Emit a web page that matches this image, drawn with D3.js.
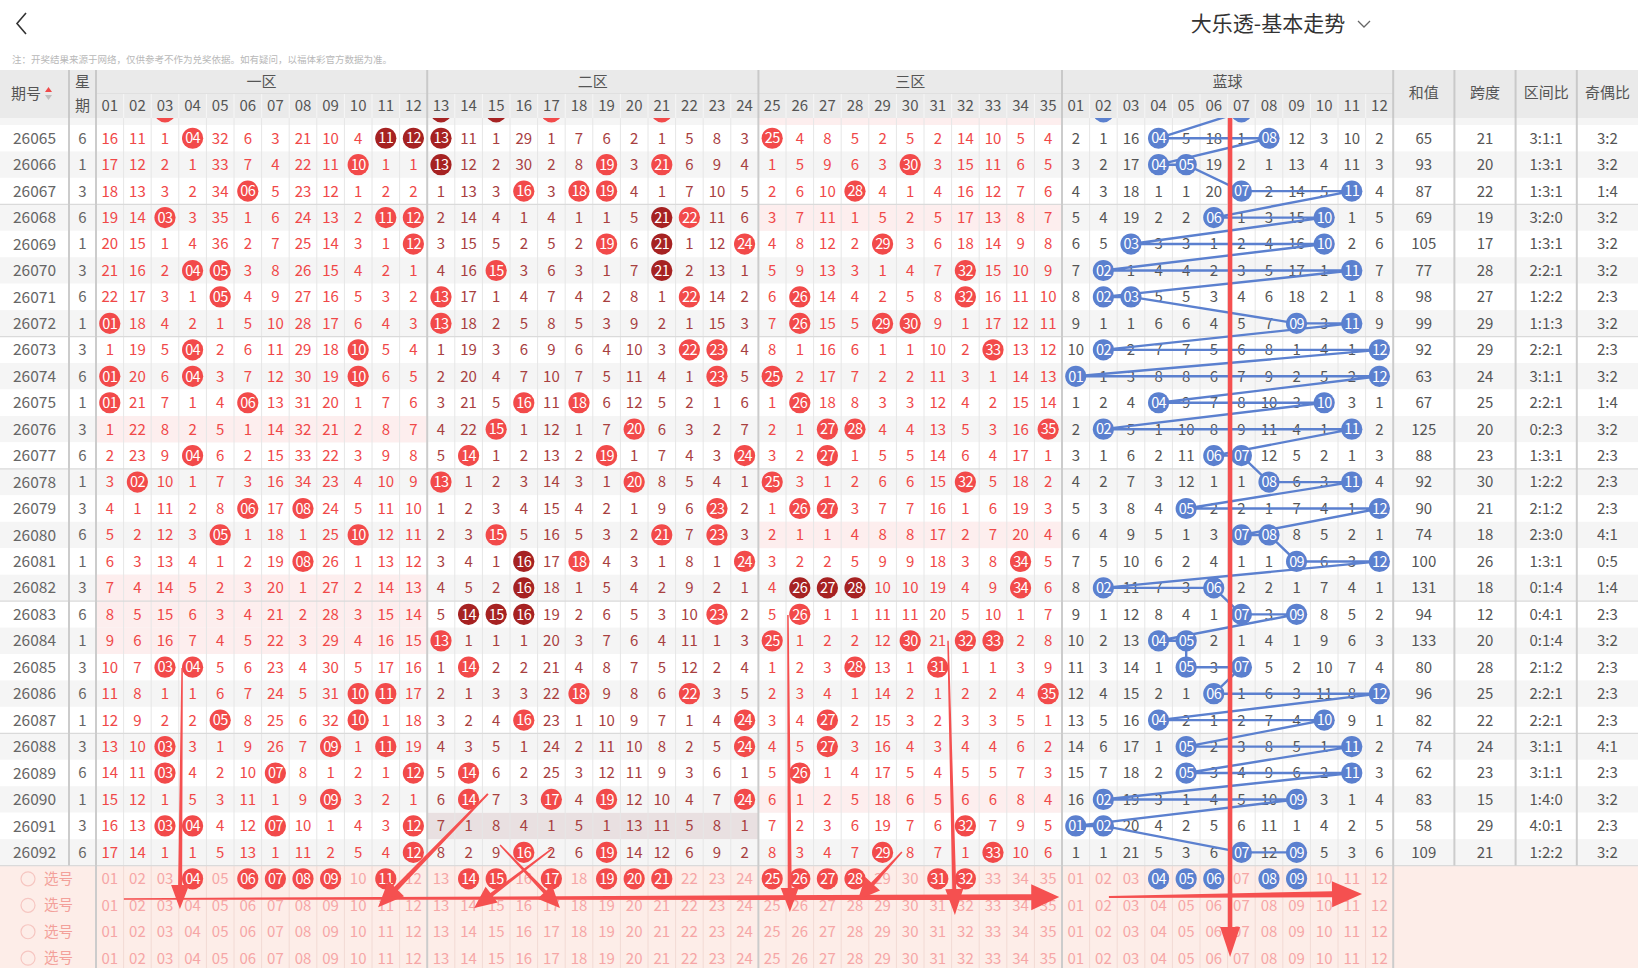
<!DOCTYPE html>
<html>
<head>
<meta charset="utf-8">
<script src="https://cdn.jsdelivr.net/npm/d3@7/dist/d3.min.js"></script>
<style>
  body { margin: 0; background: #fff; }
  svg { display: block; font-family: "Noto Sans CJK SC", "Noto Sans", sans-serif; }
</style>
</head>
<body>
<svg id="chart" width="1638" height="968"></svg>
<script>
const issues = ['26065','26066','26067','26068','26069','26070','26071','26072','26073','26074',
  '26075','26076','26077','26078','26079','26080','26081','26082','26083','26084',
  '26085','26086','26087','26088','26089','26090','26091','26092']
const weekdays = [6,1,3,6,1,3,6,1,3,6,1,3,6,1,3,6,1,3,6,1,3,6,1,3,6,1,3,6]

// omission counts for front numbers 01-35, 0 = drawn that issue
const frontMiss = [
  [16,11,1,0,32,6,3,21,10,4,0,0, 0,11,1,29,1,7,6,2,1,5,8,3, 0,4,8,5,2,5,2,14,10,5,4],
  [17,12,2,1,33,7,4,22,11,0,1,1, 0,12,2,30,2,8,0,3,0,6,9,4, 1,5,9,6,3,0,3,15,11,6,5],
  [18,13,3,2,34,0,5,23,12,1,2,2, 1,13,3,0,3,0,0,4,1,7,10,5, 2,6,10,0,4,1,4,16,12,7,6],
  [19,14,0,3,35,1,6,24,13,2,0,0, 2,14,4,1,4,1,1,5,0,0,11,6, 3,7,11,1,5,2,5,17,13,8,7],
  [20,15,1,4,36,2,7,25,14,3,1,0, 3,15,5,2,5,2,0,6,0,1,12,0, 4,8,12,2,0,3,6,18,14,9,8],
  [21,16,2,0,0,3,8,26,15,4,2,1, 4,16,0,3,6,3,1,7,0,2,13,1, 5,9,13,3,1,4,7,0,15,10,9],
  [22,17,3,1,0,4,9,27,16,5,3,2, 0,17,1,4,7,4,2,8,1,0,14,2, 6,0,14,4,2,5,8,0,16,11,10],
  [0,18,4,2,1,5,10,28,17,6,4,3, 0,18,2,5,8,5,3,9,2,1,15,3, 7,0,15,5,0,0,9,1,17,12,11],
  [1,19,5,0,2,6,11,29,18,0,5,4, 1,19,3,6,9,6,4,10,3,0,0,4, 8,1,16,6,1,1,10,2,0,13,12],
  [0,20,6,0,3,7,12,30,19,0,6,5, 2,20,4,7,10,7,5,11,4,1,0,5, 0,2,17,7,2,2,11,3,1,14,13],
  [0,21,7,1,4,0,13,31,20,1,7,6, 3,21,5,0,11,0,6,12,5,2,1,6, 1,0,18,8,3,3,12,4,2,15,14],
  [1,22,8,2,5,1,14,32,21,2,8,7, 4,22,0,1,12,1,7,0,6,3,2,7, 2,1,0,0,4,4,13,5,3,16,0],
  [2,23,9,0,6,2,15,33,22,3,9,8, 5,0,1,2,13,2,0,1,7,4,3,0, 3,2,0,1,5,5,14,6,4,17,1],
  [3,0,10,1,7,3,16,34,23,4,10,9, 0,1,2,3,14,3,1,0,8,5,4,1, 0,3,1,2,6,6,15,0,5,18,2],
  [4,1,11,2,8,0,17,0,24,5,11,10, 1,2,3,4,15,4,2,1,9,6,0,2, 1,0,0,3,7,7,16,1,6,19,3],
  [5,2,12,3,0,1,18,1,25,0,12,11, 2,3,0,5,16,5,3,2,0,7,0,3, 2,1,1,4,8,8,17,2,7,20,4],
  [6,3,13,4,1,2,19,0,26,1,13,12, 3,4,1,0,17,0,4,3,1,8,1,0, 3,2,2,5,9,9,18,3,8,0,5],
  [7,4,14,5,2,3,20,1,27,2,14,13, 4,5,2,0,18,1,5,4,2,9,2,1, 4,0,0,0,10,10,19,4,9,0,6],
  [8,5,15,6,3,4,21,2,28,3,15,14, 5,0,0,0,19,2,6,5,3,10,0,2, 5,0,1,1,11,11,20,5,10,1,7],
  [9,6,16,7,4,5,22,3,29,4,16,15, 0,1,1,1,20,3,7,6,4,11,1,3, 0,1,2,2,12,0,21,0,0,2,8],
  [10,7,0,0,5,6,23,4,30,5,17,16, 1,0,2,2,21,4,8,7,5,12,2,4, 1,2,3,0,13,1,0,1,1,3,9],
  [11,8,1,1,6,7,24,5,31,0,0,17, 2,1,3,3,22,0,9,8,6,0,3,5, 2,3,4,1,14,2,1,2,2,4,0],
  [12,9,2,2,0,8,25,6,32,0,1,18, 3,2,4,0,23,1,10,9,7,1,4,0, 3,4,0,2,15,3,2,3,3,5,1],
  [13,10,0,3,1,9,26,7,0,1,0,19, 4,3,5,1,24,2,11,10,8,2,5,0, 4,5,0,3,16,4,3,4,4,6,2],
  [14,11,0,4,2,10,0,8,1,2,1,0, 5,0,6,2,25,3,12,11,9,3,6,1, 5,0,1,4,17,5,4,5,5,7,3],
  [15,12,1,5,3,11,1,9,0,3,2,1, 6,0,7,3,0,4,0,12,10,4,7,0, 6,1,2,5,18,6,5,6,6,8,4],
  [16,13,0,0,4,12,0,10,1,4,3,0, 7,1,8,4,1,5,1,13,11,5,8,1, 7,2,3,6,19,7,6,0,7,9,5],
  [17,14,1,1,5,13,1,11,2,5,4,0, 8,2,9,0,2,6,0,14,12,6,9,2, 8,3,4,7,0,8,7,1,0,10,6]
]

// omission counts for blue numbers 01-12
const backMiss = [
  [2,1,16,0,5,18,1,0,12,3,10,2], [3,2,17,0,0,19,2,1,13,4,11,3], [4,3,18,1,1,20,0,2,14,5,0,4],
  [5,4,19,2,2,0,1,3,15,0,1,5], [6,5,0,3,3,1,2,4,16,0,2,6], [7,0,1,4,4,2,3,5,17,1,0,7],
  [8,0,0,5,5,3,4,6,18,2,1,8], [9,1,1,6,6,4,5,7,0,3,0,9], [10,0,2,7,7,5,6,8,1,4,1,0],
  [0,1,3,8,8,6,7,9,2,5,2,0], [1,2,4,0,9,7,8,10,3,0,3,1], [2,0,5,1,10,8,9,11,4,1,0,2],
  [3,1,6,2,11,0,0,12,5,2,1,3], [4,2,7,3,12,1,1,0,6,3,0,4], [5,3,8,4,0,2,2,1,7,4,1,0],
  [6,4,9,5,1,3,0,0,8,5,2,1], [7,5,10,6,2,4,1,1,0,6,3,0], [8,0,11,7,3,0,2,2,1,7,4,1],
  [9,1,12,8,4,1,0,3,0,8,5,2], [10,2,13,0,0,2,1,4,1,9,6,3], [11,3,14,1,0,3,0,5,2,10,7,4],
  [12,4,15,2,1,0,1,6,3,11,8,0], [13,5,16,0,2,1,2,7,4,0,9,1], [14,6,17,1,0,2,3,8,5,1,0,2],
  [15,7,18,2,0,3,4,9,6,2,0,3], [16,0,19,3,1,4,5,10,0,3,1,4], [0,0,20,4,2,5,6,11,1,4,2,5],
  [1,1,21,5,3,6,0,12,0,5,3,6]
]

const sums = [65,93,87,69,105,77,98,99,92,63,67,125,88,92,90,74,100,131,94,133,80,96,82,74,62,83,58,109]
const spans = [21,20,22,19,17,28,27,29,29,24,25,20,23,30,21,18,26,18,12,20,28,25,22,24,23,15,29,21]
const zoneRatios = ['3:1:1','1:3:1','1:3:1','3:2:0','1:3:1','2:2:1','1:2:2','1:1:3','2:2:1','3:1:1',
  '2:2:1','0:2:3','1:3:1','1:2:2','2:1:2','2:3:0','1:3:1','0:1:4','0:4:1','0:1:4',
  '2:1:2','2:2:1','2:2:1','3:1:1','3:1:1','1:4:0','4:0:1','1:2:2']
const oddEven = ['3:2','3:2','1:4','3:2','3:2','3:2','2:3','3:2','2:3','3:2','1:4','3:2','2:3',
  '2:3','2:3','4:1','0:5','1:4','2:3','3:2','2:3','2:3','2:3','4:1','2:3','3:2','2:3','3:2']

// balls shown in the darker red
const darkBalls = ['26064-13','26064-15','26065-11','26065-12','26065-13','26066-13','26068-21',
  '26069-21','26070-21','26081-16','26082-16','26082-26','26082-27','26082-28',
  '26083-14','26083-15','26083-16']

// issue half hidden under the header
const prevIssue = '26064'
const prevFront = [3,13,15,17,21]
const prevBack = [2,7]

// first 选号 row picks
const pickFront = [4,6,7,8,9,11,14,15,17,19,20,21,25,26,27,28,31,32]
const pickBack = [4,5,6,8,9]

const zones = [
  {name: '一区', from: 0, to: 12},
  {name: '二区', from: 12, to: 24},
  {name: '三区', from: 24, to: 35},
  {name: '蓝球', from: 35, to: 47}
]
const statHeaders = ['和值', '跨度', '区间比', '奇偶比']
const hoverCell = {issue: '26091', zone: 1}

// hand drawn red arrows, in [column, row] table units
const arrows = [
  {from: [3.12, 20.53], to: [3.04, 29.64], w: [1.5, 4], head: [24, 9]},
  {from: [14.2, 25.29], to: [10.22, 29.57], w: [2, 5], head: [26, 11]},
  {from: [14.64, 27.22], to: [16.81, 29.6], w: [1.5, 4], head: [22, 10]},
  {from: [16.52, 27.37], to: [13.7, 29.6], w: [1.5, 4], head: [22, 10]},
  {from: [1.01, 29.26], to: [34.9, 29.19], w: [1.5, 6], head: [28, 13]},
  {from: [25.07, 18.53], to: [25.14, 29.75], w: [1.5, 4], head: [24, 9]},
  {from: [29.2, 27.49], to: [27.6, 29.3], w: [1.5, 4], head: [22, 10]},
  {from: [30.87, 19.5], to: [31.12, 29.87], w: [1.5, 4], head: [26, 9]},
  {from: [36.7, 29.19], to: [45.87, 29.07], w: [2, 6], head: [30, 13]},
  {from: [41.09, -0.26], to: [41.09, 31.46], w: [4.5, 4.5], head: [30, 10]}
]

// ---- drawing ----
const W = 1638, H = 968
const svg = d3.select('#chart')
const colX = d3.scaleLinear().domain([0, 47]).range([96, 1393.2])
const rowY = d3.scaleLinear().domain([0, 32]).range([125, 125 + 32 * 26.45])
const statX = d3.scaleLinear().domain([0, 4]).range([1393.2, 1638])
const cw = colX(1) - colX(0)
const rh = rowY(1) - rowY(0)
const pad2 = d3.format('02d')
const RED = '#f24a4a', DARK = '#a62222', BLUE = '#5b80cf'

const rows = issues.map((id, i) => {
  const f = frontMiss[i], b = backMiss[i]
  return {
    id, i, wk: weekdays[i], front: f, back: b,
    fHits: f.map((v, k) => v === 0 ? k + 1 : null).filter(v => v),
    bHits: b.map((v, k) => v === 0 ? k + 1 : null).filter(v => v)
  }
})
const allRows = [{id: prevIssue, i: -1, fHits: prevFront, bHits: prevBack, hidden: true}].concat(rows)

// top bar
svg.append('path').attr('d', 'M26,13 L17,23.5 L26,34').attr('fill', 'none')
  .attr('stroke', '#333').attr('stroke-width', 1.6)
svg.append('text').attr('x', 1268).attr('y', 31).attr('text-anchor', 'middle')
  .attr('font-size', 21).attr('fill', '#333').text('大乐透-基本走势')
svg.append('path').attr('d', 'M1358,21 L1364,27 L1370,21').attr('fill', 'none')
  .attr('stroke', '#666').attr('stroke-width', 1.3)
svg.append('text').attr('x', 12).attr('y', 63).attr('font-size', 9.5).attr('fill', '#b8b8b8')
  .text('注：开奖结果来源于网络，仅供参考不作为兑奖依据。如有疑问，以福体彩官方数据为准。')

// body (clipped under the header)
svg.append('clipPath').attr('id', 'bodyClip').append('rect')
  .attr('x', 0).attr('y', 118).attr('width', W).attr('height', H - 118)
const body = svg.append('g').attr('clip-path', 'url(#bodyClip)')

// row backgrounds
body.selectAll('rect.bg').data(allRows).enter().append('rect').attr('class', 'bg')
  .attr('x', 0).attr('y', d => rowY(d.i)).attr('width', W).attr('height', rh)
  .attr('fill', d => d.i % 2 ? '#f5f5f5' : '#fff')

// zones without a drawn number get a pink band
allRows.forEach(r => {
  zones.slice(0, 3).forEach((z, zi) => {
    const n = r.fHits.filter(h => h > z.from && h <= z.to).length
    if (n > 0) return
    const hover = r.id === hoverCell.issue && zi === hoverCell.zone
    body.append('rect').attr('x', colX(z.from)).attr('y', rowY(r.i))
      .attr('width', colX(z.to) - colX(z.from)).attr('height', rh)
      .attr('fill', hover ? '#e9e0e1' : '#fdeeee')
  })
})

// pick area background
body.append('rect').attr('x', 0).attr('y', rowY(28)).attr('width', W).attr('height', H - rowY(28))
  .attr('fill', '#fdede8')

// light column lines
const zoneEdges = zones.map(z => z.from).concat([47])
d3.range(1, 47).filter(c => !zoneEdges.includes(c)).forEach(c => {
  body.append('line').attr('x1', colX(c)).attr('x2', colX(c)).attr('y1', 118).attr('y2', rowY(28))
    .attr('stroke', '#e6e6e6').attr('stroke-width', 1)
  body.append('line').attr('x1', colX(c)).attr('x2', colX(c)).attr('y1', rowY(28)).attr('y2', H)
    .attr('stroke', '#f2dad4').attr('stroke-width', 1)
})

// every fifth issue a darker rule
rows.filter(r => (r.i + 1) % 5 === 3).forEach(r => {
  body.append('line').attr('x1', 0).attr('x2', W).attr('y1', rowY(r.i + 1)).attr('y2', rowY(r.i + 1))
    .attr('stroke', '#dadada').attr('stroke-width', 1.2)
})

// thick dividers
const divX = [96].concat(zoneEdges.slice(1).map(c => colX(c)))
divX.forEach(xx => {
  body.append('line').attr('x1', xx).attr('x2', xx).attr('y1', 118).attr('y2', H)
    .attr('stroke', '#cccccc').attr('stroke-width', 2)
})
;[69, statX(1), statX(2), statX(3)].forEach(xx => {
  body.append('line').attr('x1', xx).attr('x2', xx).attr('y1', 118).attr('y2', rowY(28))
    .attr('stroke', '#cccccc').attr('stroke-width', 2)
})

// issue, weekday, stats text
const rowText = body.selectAll('g.row').data(rows).enter().append('g').attr('class', 'row')
  .attr('transform', d => `translate(0,${rowY(d.i + 0.5)})`)
rowText.append('text').attr('x', 34.5).attr('dy', '0.36em').attr('text-anchor', 'middle')
  .attr('font-size', 15.5).attr('fill', '#666').text(d => d.id)
rowText.append('text').attr('x', 82.5).attr('dy', '0.36em').attr('text-anchor', 'middle')
  .attr('font-size', 15).attr('fill', '#666').text(d => d.wk)
const statVals = [sums, spans, zoneRatios, oddEven]
statVals.forEach((arr, k) => {
  rowText.append('text').attr('x', statX(k + 0.5)).attr('dy', '0.36em').attr('text-anchor', 'middle')
    .attr('font-size', 15).attr('fill', '#555').text(d => arr[d.i])
})

// omission numbers
function missColor(c) {
  if (c >= 35) return '#555'
  if (c >= 12 && c < 24) return '#a8403f'
  return '#f04848'
}
rows.forEach(r => {
  const cells = r.front.concat(r.back).map((v, c) => ({v, c})).filter(d => d.v > 0)
  body.append('g').selectAll('text').data(cells).enter().append('text')
    .attr('x', d => colX(d.c + 0.5)).attr('y', rowY(r.i + 0.5)).attr('dy', '0.36em')
    .attr('text-anchor', 'middle').attr('font-size', 15).attr('fill', d => missColor(d.c))
    .text(d => d.v)
})

// blue trend line
const bluePts = []
allRows.forEach(r => r.bHits.forEach(b => bluePts.push([colX(35 + b - 0.5), rowY(r.i + 0.5)])))
body.append('path').attr('d', d3.line()(bluePts)).attr('fill', 'none')
  .attr('stroke', BLUE).attr('stroke-width', 2.4)

// balls
const balls = []
allRows.forEach(r => {
  r.fHits.forEach(n => balls.push({x: colX(n - 0.5), y: rowY(r.i + 0.5), n,
    fill: darkBalls.includes(r.id + '-' + n) ? DARK : RED}))
  r.bHits.forEach(n => balls.push({x: colX(35 + n - 0.5), y: rowY(r.i + 0.5), n, fill: BLUE}))
})
pickFront.forEach(n => balls.push({x: colX(n - 0.5), y: rowY(28.5), n, fill: RED}))
pickBack.forEach(n => balls.push({x: colX(35 + n - 0.5), y: rowY(28.5), n, fill: BLUE}))

// pick rows
d3.range(28, 32).forEach(i => {
  const yy = rowY(i + 0.5)
  body.append('circle').attr('cx', 28).attr('cy', yy).attr('r', 7)
    .attr('fill', 'none').attr('stroke', '#f6c6c1').attr('stroke-width', 1.2)
  body.append('text').attr('x', 44).attr('y', yy).attr('dy', '0.36em').attr('font-size', 14.5)
    .attr('fill', '#f3a09a').text('选号')
  const picked = i === 28 ? pickFront.map(n => n - 1).concat(pickBack.map(n => n + 34)) : []
  body.append('g').selectAll('text').data(d3.range(47).filter(c => !picked.includes(c)))
    .enter().append('text')
    .attr('x', c => colX(c + 0.5)).attr('y', yy).attr('dy', '0.36em').attr('text-anchor', 'middle')
    .attr('font-size', 15).attr('fill', '#f6a6a6')
    .text(c => pad2(c < 35 ? c + 1 : c - 34))
})

const ballG = body.selectAll('g.ball').data(balls).enter().append('g').attr('class', 'ball')
  .attr('transform', d => `translate(${d.x},${d.y})`)
ballG.append('circle').attr('r', 10.6).attr('fill', d => d.fill)
ballG.append('text').attr('dy', '0.36em').attr('text-anchor', 'middle').attr('font-size', 14.5)
  .attr('letter-spacing', -0.6).attr('fill', '#fff').text(d => pad2(d.n))

// header
const head = svg.append('g')
head.append('rect').attr('x', 0).attr('y', 70).attr('width', W).attr('height', 48).attr('fill', '#eaeaea')
d3.range(1, 47).filter(c => !zoneEdges.includes(c)).forEach(c => {
  head.append('line').attr('x1', colX(c)).attr('x2', colX(c)).attr('y1', 94).attr('y2', 118)
    .attr('stroke', '#f6f6f6').attr('stroke-width', 1)
})
head.append('line').attr('x1', 96).attr('x2', colX(47)).attr('y1', 93.5).attr('y2', 93.5)
  .attr('stroke', '#e0e0e0').attr('stroke-width', 1)
divX.concat([69, statX(1), statX(2), statX(3)]).forEach(xx => {
  head.append('line').attr('x1', xx).attr('x2', xx).attr('y1', 70).attr('y2', 118)
    .attr('stroke', '#c9c9c9').attr('stroke-width', 2)
})
head.append('text').attr('x', 26).attr('y', 94).attr('dy', '0.36em').attr('text-anchor', 'middle')
  .attr('font-size', 15).attr('fill', '#555').text('期号')
head.append('path').attr('d', 'M45,92 L48.5,87 L52,92 Z').attr('fill', '#f04a4a')
head.append('path').attr('d', 'M45,95 L48.5,100 L52,95 Z').attr('fill', '#c0c0c0')
head.append('text').attr('x', 82.5).attr('y', 81.5).attr('dy', '0.36em').attr('text-anchor', 'middle')
  .attr('font-size', 15).attr('fill', '#555').text('星')
head.append('text').attr('x', 82.5).attr('y', 106).attr('dy', '0.36em').attr('text-anchor', 'middle')
  .attr('font-size', 15).attr('fill', '#555').text('期')
zones.forEach(z => {
  head.append('text').attr('x', colX((z.from + z.to) / 2)).attr('y', 81.5).attr('dy', '0.36em')
    .attr('text-anchor', 'middle').attr('font-size', 15).attr('fill', '#555').text(z.name)
})
head.selectAll('text.num').data(d3.range(47)).enter().append('text').attr('class', 'num')
  .attr('x', c => colX(c + 0.5)).attr('y', 106).attr('dy', '0.36em').attr('text-anchor', 'middle')
  .attr('font-size', 15).attr('fill', '#555').text(c => pad2(c < 35 ? c + 1 : c - 34))
statHeaders.forEach((t, k) => {
  head.append('text').attr('x', statX(k + 0.5)).attr('y', 93).attr('dy', '0.36em')
    .attr('text-anchor', 'middle').attr('font-size', 15).attr('fill', '#555').text(t)
})

// red annotation arrows
function arrowPath(a) {
  const p1 = [colX(a.from[0]), rowY(a.from[1])]
  const p2 = [colX(a.to[0]), rowY(a.to[1])]
  const dx = p2[0] - p1[0], dy = p2[1] - p1[1]
  const len = Math.hypot(dx, dy)
  const ux = dx / len, uy = dy / len, nx = -uy, ny = ux
  const [L, hw] = a.head
  const b = [p2[0] - ux * L, p2[1] - uy * L]
  const pts = [
    [p1[0] + nx * a.w[0] / 2, p1[1] + ny * a.w[0] / 2],
    [b[0] + nx * a.w[1] / 2, b[1] + ny * a.w[1] / 2],
    [b[0] + nx * hw, b[1] + ny * hw],
    p2,
    [b[0] - nx * hw, b[1] - ny * hw],
    [b[0] - nx * a.w[1] / 2, b[1] - ny * a.w[1] / 2],
    [p1[0] - nx * a.w[0] / 2, p1[1] - ny * a.w[0] / 2]
  ]
  return 'M' + pts.map(p => p.join(',')).join('L') + 'Z'
}
svg.append('g').selectAll('path').data(arrows).enter().append('path')
  .attr('d', arrowPath).attr('fill', '#f55050')
</script>
</body>
</html>
